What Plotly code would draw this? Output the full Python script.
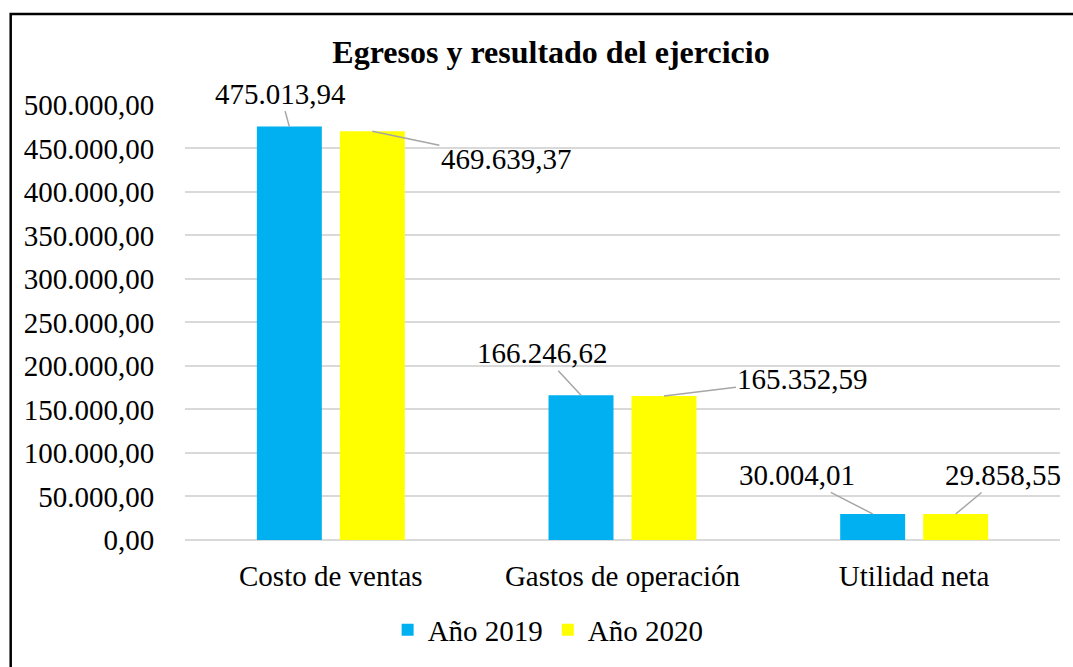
import plotly.graph_objects as go

categories = ["Costo de ventas", "Gastos de operación", "Utilidad neta"]
series_names = ["Año 2019", "Año 2020"]
values_2019 = [475013.94, 166246.62, 30004.01]
values_2020 = [469639.37, 165352.59, 29858.55]
y_tick_vals = [0, 50000, 100000, 150000, 200000, 250000, 300000, 350000, 400000, 450000, 500000]

colors = ["#00B0F0", "#FFFF00"]
FONT = "Liberation Serif, Times New Roman, serif"
BARGAP = 0.431
BARGROUPGAP = 0.217

# label text offsets in pixels (dx, dy) from bar top, per series per category
label_offsets_2019 = [(-9, -33), (-39, -42), (-76, -39)]
label_offsets_2020 = [(134, 28), (139, -17), (47, -39)]


def fmt(v):
    s = f"{v:,.2f}"
    return s.replace(",", "X").replace(".", ",").replace("X", ".")


x_pos = list(range(len(categories)))
fig = go.Figure()
for name, vals, col in zip(series_names, [values_2019, values_2020], colors):
    fig.add_trace(go.Bar(x=x_pos, y=vals, name=name, marker=dict(color=col, line=dict(width=0))))

slot = (1 - BARGAP) / 2
annotations = []
for k, (vals, offs) in enumerate([(values_2019, label_offsets_2019), (values_2020, label_offsets_2020)]):
    shift = (-0.5 + k) * slot
    for i, v in enumerate(vals):
        annotations.append(dict(
            x=x_pos[i] + shift, y=v, xref="x", yref="y",
            text=fmt(v), showarrow=True, arrowhead=0, arrowwidth=1.5,
            arrowcolor="#A6A6A6", ax=offs[i][0], ay=offs[i][1],
            font=dict(family=FONT, size=29, color="black"),
        ))

W, H = 1073, 667
PL, PR, PT, PB = 185, 1060, 104, 545
px = lambda x: (x - PL) / (PR - PL)
py = lambda y: (PB - y) / (PB - PT)

fig.update_layout(
    width=W, height=H,
    margin=dict(l=PL, r=W - PR, t=PT, b=H - PB),
    paper_bgcolor="white", plot_bgcolor="white",
    separators=",.",
    barmode="group", bargap=BARGAP, bargroupgap=BARGROUPGAP,
    font=dict(family=FONT, size=29, color="black"),
    title=dict(text="<b>Egresos y resultado del ejercicio</b>", x=551 / W, xanchor="center",
               y=1 - 52 / H, yanchor="middle", font=dict(family=FONT, size=32, color="black")),
    legend=dict(orientation="h", x=0.415, xanchor="center", y=py(636), yanchor="middle",
                font=dict(family=FONT, size=29), itemwidth=30, traceorder="normal"),
    xaxis=dict(range=[-0.5, 2.5], tickvals=x_pos, ticktext=categories, showgrid=False,
               zeroline=False, showline=False, ticks="outside", ticklen=10, tickcolor="rgba(0,0,0,0)",
               tickfont=dict(family=FONT, size=29)),
    yaxis=dict(range=[0, 501000], tickvals=y_tick_vals, tickformat=",.2f", showgrid=True,
               gridcolor="#D9D9D9", gridwidth=1.5, zeroline=True, zerolinecolor="#D9D9D9",
               zerolinewidth=1.5, showline=False, ticks="outside", ticklen=24,
               tickcolor="rgba(0,0,0,0)", tickfont=dict(family=FONT, size=29)),
    annotations=annotations,
    shapes=[dict(type="path", xref="paper", yref="paper",
                 path=f"M {px(10.7)},{py(700)} L {px(10.7)},{py(13)} L {px(1100)},{py(13)}",
                 line=dict(color="black", width=2.5), fillcolor="rgba(0,0,0,0)", layer="above")],
)

fig.write_html("out.html", config={"displayModeBar": False},
               post_script="document.body.style.margin='0';document.body.style.overflow='hidden';")
